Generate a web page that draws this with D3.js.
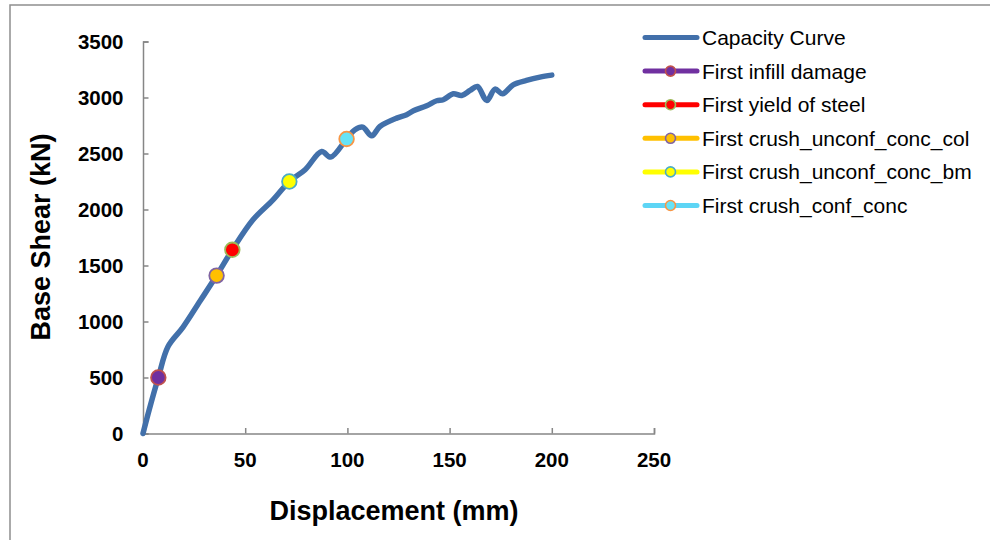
<!DOCTYPE html>
<html>
<head>
<meta charset="utf-8">
<script src="https://cdn.jsdelivr.net/npm/d3@7"></script>
<style>
  html, body { margin: 0; padding: 0; background: #fff; }
  svg { display: block; }
  text { font-family: "Liberation Sans", Arial, sans-serif; }
</style>
</head>
<body>
<svg id="chart" width="990" height="540"></svg>
<script>
// Pushover capacity curve (displacement in mm, base shear in kN)
const displacement = [0, 3, 7.5, 12.2, 19.6, 28, 36, 43.7, 53.8, 63.6, 71.6, 79.3, 87.4, 91.8,
  99.6, 103.7, 107.5, 111.9, 115.9, 124.1, 129, 132.3, 138.8, 143.7, 146.9, 151.8, 155.9,
  160, 163.6, 168.2, 172.2, 175.9, 181.1, 187.6, 194.2, 200];
const baseShear = [0, 210, 500, 775, 950, 1185, 1410, 1640, 1908, 2085, 2250, 2355, 2518, 2468,
  2630, 2712, 2736, 2658, 2741, 2816, 2846, 2881, 2926, 2971, 2980, 3033, 3018,
  3063, 3098, 2973, 3075, 3033, 3113, 3152, 3182, 3200];

// Damage events marked on the curve
const eventNames = ["First infill damage", "First yield of steel", "First crush_unconf_conc_col",
  "First crush_unconf_conc_bm", "First crush_conf_conc"];
const eventDisp = [7.5, 43.7, 36, 71.6, 99.6];
const eventShear = [500, 1640, 1410, 2250, 2630];
const eventLine = ["#7030A0", "#FF0000", "#FFC000", "#FFFF00", "#5DD5F5"];
const eventFill = ["#7030A0", "#FF0000", "#FFC000", "#FFFF00", "#66E3F7"];
const eventEdge = ["#C0504D", "#9BBB59", "#8064A2", "#4BACC6", "#F79646"];

const xTicks = [0, 50, 100, 150, 200, 250];
const yTicks = [0, 500, 1000, 1500, 2000, 2500, 3000, 3500];

const svg = d3.select("#chart");
const axisColor = "#868686";

// outer frame
svg.append("rect").attr("x", 10).attr("y", 5).attr("width", 1000).attr("height", 560)
  .attr("fill", "none").attr("stroke", "#8f8f8f").attr("stroke-width", 1.5);

const x = d3.scaleLinear().domain([0, 250]).range([143, 654]);
const y = d3.scaleLinear().domain([0, 3500]).range([433.5, 41.5]);

// axes
const xAxis = svg.append("g").attr("transform", `translate(0,${y(0)})`)
  .call(d3.axisTop(x).tickValues(xTicks).tickSize(5.5).tickFormat(""));
const yAxis = svg.append("g").attr("transform", `translate(${x(0)},0)`)
  .call(d3.axisRight(y).tickValues(yTicks).tickSize(5.5).tickFormat(""));
[xAxis, yAxis].forEach(g => {
  g.selectAll("path, line").attr("stroke", axisColor).attr("stroke-width", 1.5);
});

svg.append("g").selectAll("text").data(xTicks).join("text")
  .attr("x", d => x(d)).attr("y", 466.5).attr("text-anchor", "middle")
  .attr("font-size", 20.5).attr("font-weight", "bold").text(d => d);
svg.append("g").selectAll("text").data(yTicks).join("text")
  .attr("x", 123.5).attr("y", d => y(d) + 7.3).attr("text-anchor", "end")
  .attr("font-size", 20.5).attr("font-weight", "bold").text(d => d);

svg.append("text").attr("x", 394).attr("y", 520).attr("text-anchor", "middle")
  .attr("font-size", 27).attr("font-weight", "bold").text("Displacement (mm)");
svg.append("text").attr("transform", "translate(50,237) rotate(-90)").attr("text-anchor", "middle")
  .attr("font-size", 27).attr("font-weight", "bold").text("Base Shear (kN)");

// capacity curve
const pts = displacement.map((d, i) => [d, baseShear[i]]);
const line = d3.line().x(d => x(d[0])).y(d => y(d[1])).curve(d3.curveCatmullRom.alpha(0.5));
svg.append("path").datum(pts).attr("d", line).attr("fill", "none")
  .attr("stroke", "#4270AA").attr("stroke-width", 5.5).attr("stroke-linecap", "round")
  .attr("stroke-linejoin", "round");

// event markers
svg.append("g").selectAll("circle").data(eventNames).join("circle")
  .attr("cx", (d, i) => x(eventDisp[i])).attr("cy", (d, i) => y(eventShear[i])).attr("r", 7.3)
  .attr("fill", (d, i) => eventFill[i]).attr("stroke", (d, i) => eventEdge[i]).attr("stroke-width", 1.8);

// legend
const legendItems = ["Capacity Curve"].concat(eventNames);
const lg = svg.append("g");
legendItems.forEach((name, i) => {
  const cy = 37.5 + i * 33.6;
  const g = lg.append("g");
  const col = i === 0 ? "#4270AA" : eventLine[i - 1];
  g.append("line").attr("x1", 645).attr("x2", 697).attr("y1", cy).attr("y2", cy)
    .attr("stroke", col).attr("stroke-width", 5).attr("stroke-linecap", "round");
  if (i > 0) {
    g.append("circle").attr("cx", 670.5).attr("cy", cy).attr("r", 5)
      .attr("fill", eventFill[i - 1]).attr("stroke", eventEdge[i - 1]).attr("stroke-width", 1.6);
  }
  g.append("text").attr("x", 702).attr("y", cy + 7.5).attr("font-size", 21).text(name);
});
</script>
</body>
</html>
